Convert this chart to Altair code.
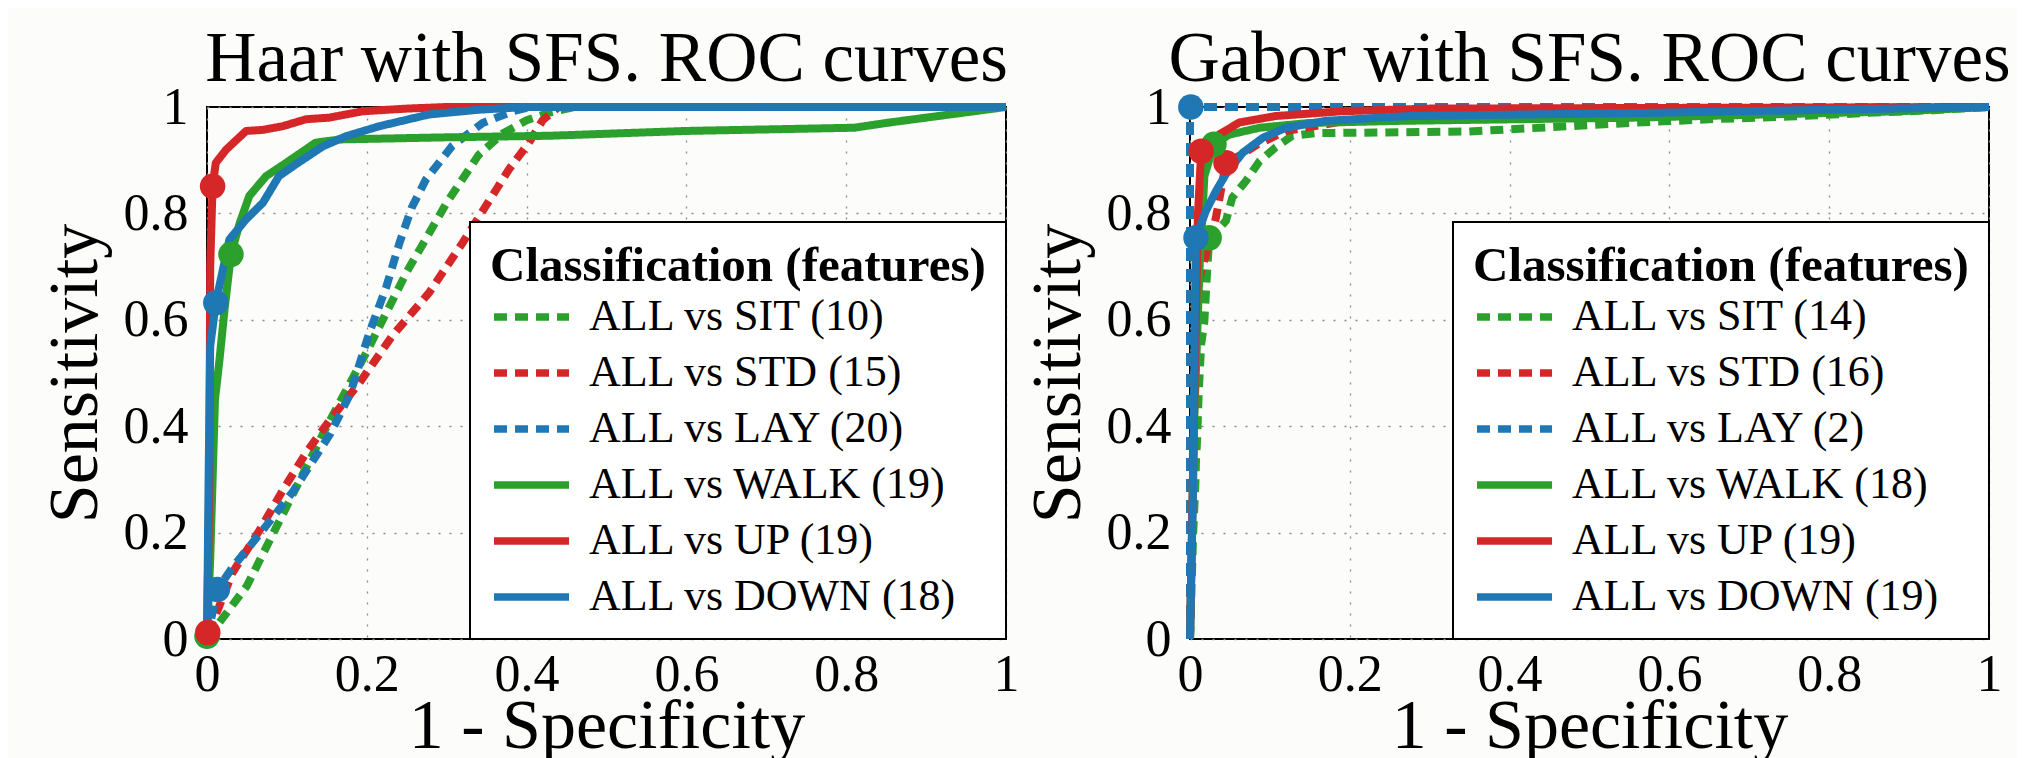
import altair as alt
import pandas as pd

# ---------------- data ----------------
series = ["ALL vs SIT", "ALL vs STD", "ALL vs LAY", "ALL vs WALK", "ALL vs UP", "ALL vs DOWN"]
colors = ["#2ca02c", "#d62728", "#1f77b4", "#2ca02c", "#d62728", "#1f77b4"]
dashes = [[13, 8], [13, 8], [13, 8], [1, 0], [1, 0], [1, 0]]

haar_features = [10, 15, 20, 19, 19, 18]
gabor_features = [14, 16, 2, 18, 19, 19]
ticks = [0, 0.2, 0.4, 0.6, 0.8, 1]

# Haar with SFS
haar_sit_x = [0, 0.05, 0.10, 0.15, 0.20, 0.25, 0.30, 0.34, 0.37, 0.40, 0.43, 0.46, 1.0]
haar_sit_y = [0, 0.10, 0.25, 0.40, 0.54, 0.69, 0.82, 0.91, 0.95, 0.975, 0.99, 1.0, 1.0]
haar_std_x = [0.001, 0.015, 0.032, 0.066, 0.095, 0.124, 0.153, 0.191, 0.232, 0.278, 0.320, 0.349, 0.378, 0.403, 0.420, 0.44, 1.0]
haar_std_y = [0.012, 0.06, 0.125, 0.205, 0.28, 0.35, 0.41, 0.482, 0.57, 0.651, 0.745, 0.814, 0.883, 0.933, 0.975, 1.0, 1.0]
haar_lay_x = [0, 0.013, 0.032, 0.070, 0.108, 0.154, 0.179, 0.203, 0.224, 0.241, 0.256, 0.274, 0.307, 0.345, 0.383, 0.405, 1.0]
haar_lay_y = [0, 0.093, 0.135, 0.205, 0.278, 0.385, 0.46, 0.575, 0.66, 0.745, 0.81, 0.864, 0.927, 0.97, 0.992, 1.0, 1.0]
haar_walk_x = [0, 0.004, 0.010, 0.016, 0.022, 0.030, 0.041, 0.053, 0.074, 0.099, 0.136, 0.166, 0.30, 0.43, 0.60, 0.81, 0.85, 1.0]
haar_walk_y = [0, 0.15, 0.45, 0.53, 0.62, 0.723, 0.782, 0.833, 0.870, 0.895, 0.933, 0.939, 0.943, 0.946, 0.955, 0.961, 0.970, 1.0]
haar_up_x = [0, 0.003, 0.004, 0.007, 0.011, 0.024, 0.049, 0.070, 0.095, 0.124, 0.153, 0.195, 0.25, 0.30, 1.0]
haar_up_y = [0.01, 0.3, 0.7, 0.851, 0.895, 0.920, 0.955, 0.957, 0.964, 0.977, 0.980, 0.992, 0.997, 1.0, 1.0]
haar_down_x = [0, 0.002, 0.004, 0.011, 0.028, 0.049, 0.070, 0.090, 0.111, 0.145, 0.174, 0.216, 0.278, 0.341, 0.40, 1.0]
haar_down_y = [0, 0.3, 0.55, 0.632, 0.751, 0.789, 0.820, 0.870, 0.892, 0.926, 0.945, 0.964, 0.986, 0.995, 1.0, 1.0]
haar_mark_x = [0.0, 0.001, 0.013, 0.030, 0.007, 0.011]
haar_mark_y = [0.005, 0.012, 0.093, 0.723, 0.851, 0.632]

# Gabor with SFS
gabor_sit_x = [0, 0.004, 0.0067, 0.0075, 0.009, 0.011, 0.014, 0.018, 0.021, 0.024, 0.035, 0.045, 0.053, 0.070, 0.087, 0.107, 0.128, 0.157, 0.232, 0.349, 0.45, 0.55, 0.65, 0.75, 0.85, 0.93, 1.0]
gabor_sit_y = [0, 0.2, 0.29, 0.335, 0.378, 0.466, 0.554, 0.598, 0.68, 0.754, 0.77, 0.786, 0.830, 0.861, 0.898, 0.924, 0.946, 0.951, 0.952, 0.954, 0.962, 0.970, 0.977, 0.982, 0.989, 0.994, 1.0]
gabor_std_x = [0, 0.004, 0.008, 0.012, 0.020, 0.0325, 0.045, 0.066, 0.085, 0.12, 0.2, 0.35, 0.6, 1.0]
gabor_std_y = [0, 0.35, 0.6, 0.68, 0.723, 0.792, 0.895, 0.912, 0.93, 0.955, 0.975, 0.99, 0.997, 1.0]
gabor_lay_x = [0, 0, 1.0]
gabor_lay_y = [0, 1.0, 1.0]
gabor_walk_x = [0, 0.005, 0.012, 0.016, 0.018, 0.030, 0.049, 0.087, 0.149, 0.264, 0.555, 0.889, 1.0]
gabor_walk_y = [0, 0.4, 0.7, 0.81, 0.87, 0.930, 0.948, 0.961, 0.970, 0.974, 0.980, 0.992, 1.0]
gabor_up_x = [0, 0.006, 0.010, 0.014, 0.037, 0.062, 0.107, 0.19, 0.30, 1.0]
gabor_up_y = [0, 0.5, 0.8, 0.917, 0.949, 0.971, 0.983, 0.992, 0.997, 1.0]
gabor_down_x = [0, 0.004, 0.006, 0.0075, 0.020, 0.0325, 0.045, 0.066, 0.091, 0.12, 0.17, 0.274, 0.576, 1.0]
gabor_down_y = [0, 0.3, 0.6, 0.754, 0.805, 0.842, 0.874, 0.914, 0.942, 0.961, 0.974, 0.983, 0.989, 1.0]
gabor_mark_x = [0.024, 0.045, 0.001, 0.030, 0.014, 0.0075]
gabor_mark_y = [0.754, 0.895, 1.0, 0.930, 0.917, 0.754]

# ---------------- styling ----------------
SERIF = "Liberation Serif"
BG = "#fcfcfa"


def make_panel(title, feats, curves, mark_x, mark_y):
    labels = [f"{s} ({n})" for s, n in zip(series, feats)]
    rows = []
    for lab, (xs, ys) in zip(labels, curves):
        for i, (xv, yv) in enumerate(zip(xs, ys)):
            rows.append({"series": lab, "idx": i, "x": xv, "y": yv})
    lines_df = pd.DataFrame(rows)
    marks_df = pd.DataFrame({"series": labels, "x": mark_x, "y": mark_y})

    legend = alt.Legend(
        title="Classification (features)",
        orient="bottom-right",
        offset=0,
        padding=20,
        fillColor="#ffffff",
        strokeColor="black",
        symbolType="M-1,0H2.41",
        symbolSize=1936,
        symbolStrokeWidth=7.5,
        labelFont=SERIF,
        labelFontSize=44,
        labelColor="black",
        labelOffset=47,
        labelLimit=0,
        titleLimit=0,
        titleFont=SERIF,
        titleFontSize=49,
        titleFontWeight="bold",
        titleColor="black",
        titlePadding=0,
        rowPadding=8,
    )
    xaxis = alt.Axis(values=ticks, format="~g", title="1 - Specificity",
                     labelFlush=False, labelOverlap=False, labelPadding=10,
                     titlePadding=-8)
    yaxis = alt.Axis(values=ticks, format="~g", title="Sensitivity",
                     labelFlush=False, labelOverlap=False, labelPadding=19,
                     titlePadding=12)
    xs = alt.X("x:Q", scale=alt.Scale(domain=[0, 1], nice=False), axis=xaxis)
    ys = alt.Y("y:Q", scale=alt.Scale(domain=[0, 1], nice=False), axis=yaxis)

    lines = alt.Chart(lines_df).mark_line(strokeWidth=8, strokeCap="butt", strokeJoin="round").encode(
        x=xs, y=ys,
        color=alt.Color("series:N", scale=alt.Scale(domain=labels, range=colors), sort=labels, legend=legend),
        strokeDash=alt.StrokeDash("series:N", scale=alt.Scale(domain=labels, range=dashes), sort=labels, legend=legend),
        order="idx:Q",
    )
    points = alt.Chart(marks_df).mark_circle(size=650, opacity=1).encode(
        x=alt.X("x:Q"), y=alt.Y("y:Q"),
        fill=alt.Fill("series:N", scale=alt.Scale(domain=labels, range=colors), legend=None),
    )
    return alt.layer(lines, points).properties(
        width=799, height=532,
        title=alt.TitleParams(text=title, font=SERIF, fontSize=71, fontWeight="normal",
                              color="black", anchor="middle", frame="group",
                              baseline="alphabetic", offset=-71),
    )


left = make_panel(
    "Haar with SFS. ROC curves", haar_features,
    [(haar_sit_x, haar_sit_y), (haar_std_x, haar_std_y), (haar_lay_x, haar_lay_y),
     (haar_walk_x, haar_walk_y), (haar_up_x, haar_up_y), (haar_down_x, haar_down_y)],
    haar_mark_x, haar_mark_y)
right = make_panel(
    "Gabor with SFS. ROC curves", gabor_features,
    [(gabor_sit_x, gabor_sit_y), (gabor_std_x, gabor_std_y), (gabor_lay_x, gabor_lay_y),
     (gabor_walk_x, gabor_walk_y), (gabor_up_x, gabor_up_y), (gabor_down_x, gabor_down_y)],
    gabor_mark_x, gabor_mark_y)

chart = alt.hconcat(left, right, spacing=184, bounds="flush").resolve_scale(
    x="independent", y="independent", color="independent",
    strokeDash="independent", fill="independent",
).resolve_legend(color="independent", strokeDash="independent").properties(
    padding={"left": 31, "top": 15, "right": 5, "bottom": 0},
    background=BG,
).configure_view(
    stroke="black", strokeWidth=2, fill=BG,
).configure_axis(
    grid=True, gridDash=[2, 9], gridColor="#8a8a8a", gridWidth=1.3,
    ticks=False, domain=False,
    labelFont=SERIF, labelFontSize=52, labelColor="black",
    titleFont=SERIF, titleFontSize=70, titleFontWeight="normal", titleColor="black",
).configure_legend(strokeWidth=2)

chart.save("out.html", embed_options={"renderer": "svg", "actions": False})
